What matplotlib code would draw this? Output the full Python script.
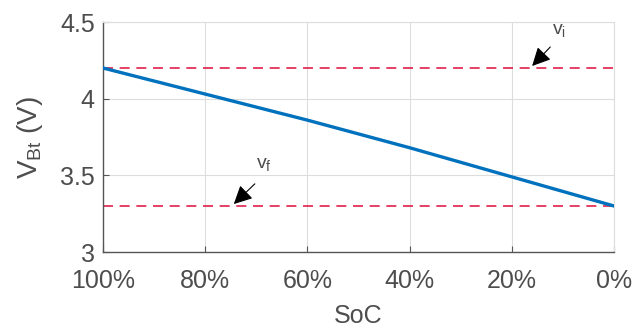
import matplotlib
matplotlib.use("Agg")
import matplotlib.pyplot as plt

soc = [100, 80, 60, 40, 20, 0]
vbt = [4.20, 4.03, 3.86, 3.68, 3.49, 3.30]
v_i = 4.2
v_f = 3.3
xticks = [100, 80, 60, 40, 20, 0]
xticklabels = ["100%", "80%", "60%", "40%", "20%", "0%"]
yticks = [3, 3.5, 4, 4.5]
yticklabels = ["3", "3.5", "4", "4.5"]

plt.rcParams['font.family'] = ['Liberation Sans', 'DejaVu Sans']
gray = '#4d4d4d'

fig = plt.figure(figsize=(6.35, 3.3), dpi=100)
ax = fig.add_axes([103/635, 1-252/330, (614-103)/635, (252-22)/330])

ax.plot(soc, vbt, color='#0072BD', lw=2.4, zorder=3)
ax.axhline(v_i, color='#E0204A', ls=(0, (6, 4)), lw=1.2, zorder=2)
ax.axhline(v_f, color='#E0204A', ls=(0, (6, 4)), lw=1.2, zorder=2)

ax.set_xlim(100, 0)
ax.set_ylim(3, 4.5)
ax.set_xticks(xticks)
ax.set_xticklabels(xticklabels)
ax.set_yticks(yticks)
ax.set_yticklabels(yticklabels)
ax.grid(True, color='#dddddd', lw=0.8)
ax.set_axisbelow(True)
for s in ['top', 'right']:
    ax.spines[s].set_color('#dddddd')
for s in ['left', 'bottom']:
    ax.spines[s].set_color('#555555')
    ax.spines[s].set_linewidth(1.0)
ax.tick_params(direction='in', length=4, colors='#555555', labelcolor=gray,
               labelsize=18, top=False, right=False)
ax.tick_params(axis='x', pad=12)
ax.tick_params(axis='y', pad=6)

ax.set_xlabel('SoC', fontsize=18, color=gray, labelpad=8)
ax.set_ylabel(r'V$_{\mathregular{Bt}}$ (V)', fontsize=20, color=gray, labelpad=11)

arrowprops = dict(arrowstyle='-|>,head_length=0.8,head_width=0.4', color='black',
                  lw=0.8, mutation_scale=14)
ax.annotate('', xy=(16.4, v_i), xytext=(12.1, 4.35), arrowprops=arrowprops)
ax.text(10.8, 4.44, r'v$_{\mathregular{i}}$', fontsize=14, color=gray, ha='center', va='center')
ax.annotate('', xy=(74.8, v_f), xytext=(69.9, 3.457), arrowprops=arrowprops)
ax.text(68.5, 3.567, r'v$_{\mathregular{f}}$', fontsize=14, color=gray, ha='center', va='center')

fig.savefig('out.png', dpi=100)
